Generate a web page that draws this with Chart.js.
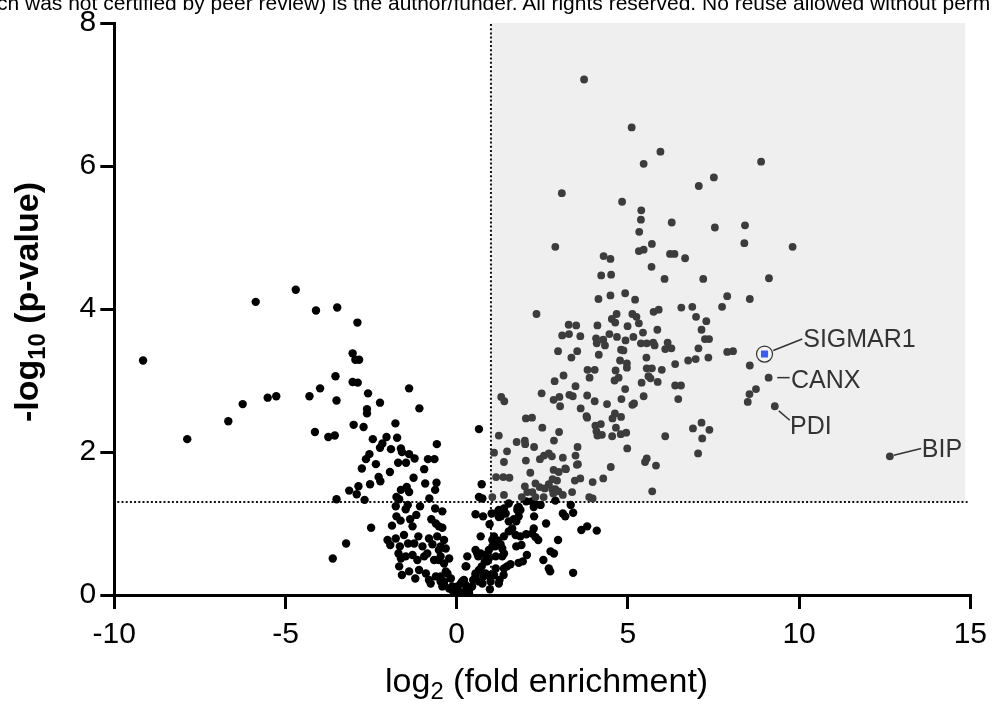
<!DOCTYPE html>
<html><head><meta charset="utf-8">
<script src="https://cdn.jsdelivr.net/npm/chart.js@4.4.0/dist/chart.umd.min.js"></script>
<style>
html,body{margin:0;padding:0;background:#fff;overflow:hidden;width:995px;height:704px;}
#wrap{position:relative;width:995px;height:704px;overflow:hidden;}
canvas{position:absolute;left:0;top:0;}
.t{position:absolute;font-family:'Liberation Sans',Arial,sans-serif;color:#000;white-space:nowrap;line-height:1;}
#hdr{left:-3px;top:-8px;font-size:21px;}
#xt{left:385px;top:663px;font-size:34px;}
#yt{font-size:34px;font-weight:bold;width:300px;height:34px;text-align:center;left:-124px;top:285px;transform:rotate(-90deg);}
sub{font-size:0.7em;vertical-align:baseline;position:relative;top:0.3em;}
</style></head><body>
<div id="wrap"><canvas id="c" width="995" height="704"></canvas>
<div class="t" id="hdr">ch was not certified by peer review) is the author/funder. All rights reserved. No reuse allowed without perm</div>
<div class="t" id="xt">log<sub>2</sub> (fold enrichment)</div>
<div class="t" id="yt">-log<sub>10</sub> (p-value)</div>
</div>
<script>
// thresholds
const fcThreshold = 1;
const pThreshold = 1.301;

// labelled proteins
const labelNames = ['SIGMAR1', 'CANX', 'PDI', 'BIP'];
const labelX = [8.99, 9.11, 9.29, 12.65];
const labelY = [3.37, 3.04, 2.64, 1.94];

// proteins outside the enriched box [log2 FC, -log10 p]
const otherPoints = [
[-9.16,3.28],[-7.87,2.18],[-6.67,2.43],[-6.25,2.67],[-5.52,2.76],[-5.27,2.78],[-5.87,4.10],[-4.70,4.27],[-4.11,3.98],[-3.49,4.02],[-2.90,3.81],[-3.04,3.38],[-2.96,3.29],[-2.85,3.29],[-3.54,3.06],[-3.04,2.98],[-2.89,2.97],[-4.30,2.78],[-3.99,2.89],[-3.51,2.72],[-2.59,2.82],[-2.24,2.69],[-4.14,2.28],[-3.75,2.21],[-3.56,2.23],[-1.39,2.89],
[-2.62,2.60],[-2.62,2.54],[-1.09,2.61],[-3.01,2.38],[-2.72,2.35],[-1.79,2.40],[-2.45,2.18],[-2.05,2.21],[-1.74,2.20],[-2.17,2.12],[-2.24,2.06],[-1.92,2.04],[-1.63,2.05],[-1.60,2.00],[-0.58,2.11],[-1.39,1.97],[-1.23,1.91],[-2.55,1.97],[-2.65,1.90],[-2.36,1.83],[-1.71,1.85],[-1.48,1.85],[-0.84,1.90],[-0.65,1.90],[-2.77,1.77],[-1.95,1.72],[-0.95,1.76],[-2.28,1.65],[-2.23,1.59],[-1.26,1.64],[-0.92,1.56],[-0.59,1.57],[-2.87,1.52],[-2.53,1.55],[-3.14,1.46],[-2.92,1.41],[-1.63,1.47],[-1.46,1.51],[-1.39,1.44],[-1.76,1.37],[-1.68,1.34],[-1.78,1.24],[-0.63,1.47],[-0.80,1.35],[-3.51,1.34],[-2.69,1.33],[-1.43,1.26],[-1.49,1.20],[-1.07,1.24],[-0.63,1.21],[-0.42,1.17],[-1.76,1.10],[-1.64,1.04],[-1.36,1.06],[-1.18,1.12],[-0.74,1.06],[-0.61,1.00],[-0.42,0.94],[-1.89,0.97],[-1.29,0.96],[-2.50,0.94],[-3.23,0.72],[-3.62,0.51],
[-2.02,0.77],[-1.94,0.70],[-1.78,0.79],[-1.66,0.68],[-1.54,0.84],[-1.42,0.72],[-1.24,0.72],[-1.12,0.82],[-1.00,0.68],[-0.81,0.79],[-0.71,0.71],[-0.57,0.82],[-0.47,0.68],[-0.32,0.65],
[-1.70,0.58],[-1.63,0.51],[-1.49,0.54],[-1.29,0.56],[-1.15,0.49],[-0.95,0.54],[-0.86,0.58],[-0.66,0.49],[-0.52,0.49],[-0.37,0.44],[-0.22,0.51],
[-1.68,0.40],[-1.60,0.28],[-1.39,0.33],[-1.21,0.23],[-1.10,0.35],[-0.90,0.30],[-0.81,0.21],[-0.76,0.16],[-0.61,0.26],[-0.47,0.19],[-0.37,0.14],[-0.27,0.30],[-0.17,0.23],
[-0.13,0.12],[-0.03,0.07],[0.07,0.05],[-0.08,0.02],[0.02,0.00],[0.16,0.19],[0.26,0.14],[0.28,0.07],[0.36,0.02],[0.21,0.00],
[0.31,0.54],[0.26,0.40],[0.55,0.30],[0.65,0.19],[0.73,0.40],[0.82,0.47],[0.84,0.30],[0.99,0.19],[1.09,0.28],[1.14,0.37],[1.25,0.21],[1.38,0.37],[1.38,0.58],
[0.55,0.63],[0.70,0.58],[0.84,0.56],[0.94,0.63],[1.14,0.54],[1.33,0.54],[1.12,0.68],[0.89,0.47],
[0.65,2.32],[0.73,1.55],[0.65,1.37],[0.75,1.35],[0.55,1.13],[0.77,1.10],[1.21,1.17],[1.38,1.21],[1.43,1.14],[1.29,1.10],[1.23,1.09],[1.78,1.22],[1.81,1.10],[1.74,1.03],[2.26,1.10],[2.30,1.27],[2.61,1.00],[2.96,0.77],[3.10,1.14],[3.17,1.10],[3.40,1.15],[3.33,1.26],[3.64,0.91],[3.81,0.96],[4.09,0.90],[2.74,0.61],[2.84,0.58],[2.69,0.37],[2.73,0.33],[3.40,0.31],[2.53,0.49],[2.05,0.56],[1.81,0.45],[1.93,0.47],[1.57,0.43],[1.47,0.40],[1.37,0.28],[1.23,0.16],[0.94,0.51],[0.94,0.28],[0.97,0.08],[0.75,0.16],[0.78,0.26],[0.65,0.35],[0.55,0.28],[0.48,0.21],[1.04,0.77],[1.09,0.82],[1.21,0.76],[1.28,0.71],[1.04,0.68],[1.38,0.82],[1.52,0.89],[1.72,0.84],[1.86,0.82],[2.03,0.85],[2.20,0.86],[2.30,0.81],[2.38,0.77],[1.89,0.70],[1.74,0.68],[1.33,0.65],[0.70,0.82],[0.60,0.58],[0.63,0.54],[0.84,0.47],[0.28,0.40],[0.21,0.21],[0.12,0.16],[0.02,0.12],[-0.13,0.07],[-0.22,0.09],[0.07,0.00],[0.16,0.02],[0.36,0.07],[0.45,0.12],[-0.52,0.63],[-0.47,0.54],[-0.32,0.33],[-0.47,0.26],[-0.37,0.19],[-0.42,0.12],[-0.52,0.96],[-0.37,0.77],
[1.02,1.14],[1.23,1.19],[1.52,1.28],[1.81,1.23],[1.77,1.19],[1.86,1.19],[2.25,1.23],[2.45,1.26],[1.52,1.03],[1.67,1.06],[0.96,0.99],[1.62,0.93],[2.25,0.93],[2.03,1.31],[2.20,1.31],[2.88,1.32]
];

// proteins inside the enriched box [log2 FC, -log10 p]
const enrichedPoints = [
[3.72,7.21],[5.11,6.54],[5.95,6.20],[5.46,6.03],[7.51,5.84],[7.07,5.72],[8.89,6.06],[3.07,5.62],[4.83,5.50],[5.39,5.38],[5.38,5.25],[6.28,5.21],[7.54,5.14],[8.42,5.17],[8.40,4.92],[9.81,4.87],[5.33,5.08],[2.88,4.87],[5.70,4.91],[5.32,4.81],[5.46,4.83],[4.29,4.74],[4.49,4.70],[6.23,4.77],[6.36,4.77],[6.67,4.71],
[5.69,4.59],[4.22,4.47],[4.51,4.48],[6.07,4.42],[7.20,4.42],[9.12,4.43],[4.92,4.22],[4.49,4.19],[4.14,4.14],[5.21,4.13],[7.90,4.18],[8.56,4.14],[7.75,4.03],[6.88,4.03],[6.56,4.02],[6.99,3.89],[7.29,3.83],[7.15,3.71],[7.25,3.58],[7.37,3.58],[7.06,3.45],[6.76,3.28],[6.98,3.30],[7.35,3.32],[7.90,3.40],[8.07,3.41],[8.56,3.21],[8.74,2.88],[8.55,2.81],[8.50,2.70],[6.90,2.33],[7.15,2.41],[7.38,2.31],[7.17,2.19],[7.05,1.98],
[2.33,3.93],[5.13,3.93],[5.25,3.89],[5.75,3.96],[5.90,3.99],[4.67,3.93],[4.53,3.86],[4.63,3.81],[5.32,3.80],[4.99,3.76],[3.27,3.78],[3.49,3.77],[4.11,3.77],[5.86,3.71],[3.08,3.63],[3.28,3.65],[3.61,3.62],[4.46,3.65],[4.68,3.61],[5.16,3.61],[5.44,3.67],[4.07,3.59],[4.28,3.57],[4.93,3.56],[5.38,3.52],[5.55,3.52],[5.74,3.53],[5.78,3.49],[4.09,3.52],[4.33,3.49],[6.16,3.53],[6.09,3.44],[6.27,3.45],[2.96,3.41],[3.52,3.41],[4.80,3.43],[4.87,3.42],[4.15,3.36],[3.35,3.32],[5.54,3.32],[4.77,3.28],[4.97,3.24],[4.97,3.18],[6.38,3.23],[3.82,3.15],[4.03,3.15],[3.88,3.04],[4.64,3.14],[5.55,3.17],[5.70,3.17],[5.60,3.06],[5.66,3.03],[5.99,3.15],[3.12,3.07],[2.86,2.99],[4.73,3.04],[4.61,3.00],[5.87,2.98],[5.40,2.97],[6.38,2.93],[6.55,2.93],[3.47,2.92],[4.92,2.88],
[1.30,2.77],[1.39,2.71],[2.48,2.82],[2.83,2.73],[3.00,2.77],[3.02,2.64],[3.29,2.80],[3.39,2.78],[3.81,2.79],[4.03,2.71],[4.81,2.74],[5.46,2.78],[6.47,2.74],[4.39,2.67],[5.13,2.66],[5.18,2.68],[3.62,2.61],[3.79,2.50],[3.81,2.48],[4.62,2.54],[4.55,2.47],[4.80,2.49],[2.02,2.47],[2.20,2.48],[2.50,2.34],[2.99,2.28],[4.05,2.37],[4.21,2.39],[4.08,2.29],[4.24,2.24],[4.11,2.23],[4.65,2.34],[4.54,2.22],[4.79,2.25],[4.95,2.27],[6.09,2.22],[1.23,2.23],[1.75,2.14],[1.99,2.16],[2.00,2.11],[2.26,2.07],[2.84,2.16],[3.53,2.07],[3.47,1.95],[3.54,1.83],[4.98,2.05],
[1.09,1.99],[1.47,2.01],[1.38,1.86],[2.02,1.88],[2.43,1.90],[2.55,1.95],[2.69,1.98],[2.78,1.94],[3.10,1.92],[3.19,1.76],[2.83,1.75],[2.98,1.72],[2.15,1.71],[5.55,1.91],[5.50,1.86],[5.82,1.81],[4.50,1.79],[3.17,1.77],[3.51,1.82],
[1.15,1.65],[1.36,1.65],[1.54,1.64],[2.80,1.62],[2.93,1.60],[2.69,1.55],[3.45,1.60],[3.61,1.63],[3.97,1.58],[4.28,1.63],[1.99,1.52],[2.88,1.48],[5.71,1.45],[2.30,1.56],[2.42,1.51],[2.57,1.49],[2.79,1.48],
[1.04,1.37],[1.38,1.40],[1.90,1.37],[2.06,1.44],[2.21,1.44],[2.30,1.37],[2.54,1.37],[2.82,1.42],[2.97,1.45],[3.10,1.40],[3.37,1.44],[3.87,1.37],[3.97,1.35]
];

const toXY = p => ({x: p[0], y: p[1]});
const grayData = enrichedPoints.map(toXY).concat(labelX.slice(1).map((v, i) => ({x: v, y: labelY[i + 1]})));
const focusData = [{x: labelX[0], y: labelY[0]}];

const FONT = "'Liberation Sans', Arial, Helvetica, sans-serif";

const annot = {
  id: 'annot',
  beforeDatasetsDraw(chart) {
    const {ctx, scales: {x, y}} = chart;
    const xa = x.getPixelForValue(fcThreshold);
    const xb = x.getPixelForValue(14.85);
    const yt = y.getPixelForValue(8);
    const yb = y.getPixelForValue(pThreshold);
    ctx.save();
    ctx.fillStyle = '#efefef';
    ctx.fillRect(xa, yt, xb - xa, yb - yt);
    ctx.strokeStyle = '#111';
    ctx.lineWidth = 2;
    ctx.setLineDash([2, 2.2]);
    ctx.beginPath();
    ctx.moveTo(x.getPixelForValue(-10) + 3, yb);
    ctx.lineTo(x.getPixelForValue(14.92), yb);
    ctx.stroke();
    ctx.beginPath();
    ctx.moveTo(xa, y.getPixelForValue(0) - 2);
    ctx.lineTo(xa, yt);
    ctx.stroke();
    ctx.setLineDash([]);
    // circle around SIGMAR1
    const cx = x.getPixelForValue(labelX[0]), cy = y.getPixelForValue(labelY[0]);
    ctx.beginPath();
    ctx.arc(cx, cy, 8, 0, Math.PI * 2);
    ctx.fillStyle = '#f4f4f4';
    ctx.fill();
    ctx.lineWidth = 1.2;
    ctx.strokeStyle = '#333';
    ctx.stroke();
    ctx.restore();
  },
  afterDatasetsDraw(chart) {
    const {ctx, scales: {x, y}} = chart;
    // leader line offsets (px) and text anchor offsets, per label
    const geo = [
      {l: [8.7, -3.6, 37.7, -15], t: [38.7, -14]},
      {l: [8.6, 0, 21, 0], t: [22.3, 3]},
      {l: [4, 4.7, 15, 14], t: [15.3, 20.7]},
      {l: [4, -1, 31.3, -7.7], t: [32, -6]}
    ];
    ctx.save();
    ctx.strokeStyle = '#333';
    ctx.fillStyle = '#333';
    ctx.lineWidth = 1.5;
    ctx.font = '25px ' + FONT;
    ctx.textBaseline = 'middle';
    ctx.textAlign = 'left';
    labelNames.forEach((name, i) => {
      const px = x.getPixelForValue(labelX[i]), py = y.getPixelForValue(labelY[i]);
      const g = geo[i];
      ctx.beginPath();
      ctx.moveTo(px + g.l[0], py + g.l[1]);
      ctx.lineTo(px + g.l[2], py + g.l[3]);
      ctx.stroke();
      ctx.fillText(name, px + g.t[0], py + g.t[1]);
    });
    ctx.restore();
  }
};

const tickFont = {family: FONT, size: 30};

new Chart(document.getElementById('c'), {
  type: 'scatter',
  data: {
    datasets: [
      {label: 'SIGMAR1', data: focusData, pointStyle: 'rect', pointRadius: 5, backgroundColor: '#3d5cf0', borderWidth: 0, order: 0},
      {label: 'enriched', data: grayData, backgroundColor: '#3c3c3c', pointRadius: 3.9, borderWidth: 0, order: 1},
      {label: 'other', data: otherPoints.map(toXY), backgroundColor: '#000', pointRadius: 4.2, borderWidth: 0, order: 2}
    ]
  },
  options: {
    responsive: false,
    animation: false,
    devicePixelRatio: 1,
    layout: {padding: {left: 0, top: 23, right: 22.3, bottom: 0}},
    plugins: {legend: {display: false}, tooltip: {enabled: false}},
    scales: {
      x: {
        type: 'linear', min: -10, max: 15,
        ticks: {stepSize: 5, font: tickFont, color: '#000', padding: 8, maxRotation: 0},
        grid: {drawOnChartArea: false, drawTicks: true, tickLength: 14, lineWidth: 3, color: '#000'},
        border: {display: true, color: '#000', width: 3},
        afterFit(s) { s.height = 109; }
      },
      y: {
        type: 'linear', min: 0, max: 8,
        ticks: {stepSize: 2, font: tickFont, color: '#000', padding: 4},
        grid: {drawOnChartArea: false, drawTicks: true, tickLength: 14, lineWidth: 3, color: '#000'},
        border: {display: true, color: '#000', width: 3},
        afterFit(s) { s.width = 114.3; }
      }
    }
  },
  plugins: [annot]
});
</script>
</body></html>
